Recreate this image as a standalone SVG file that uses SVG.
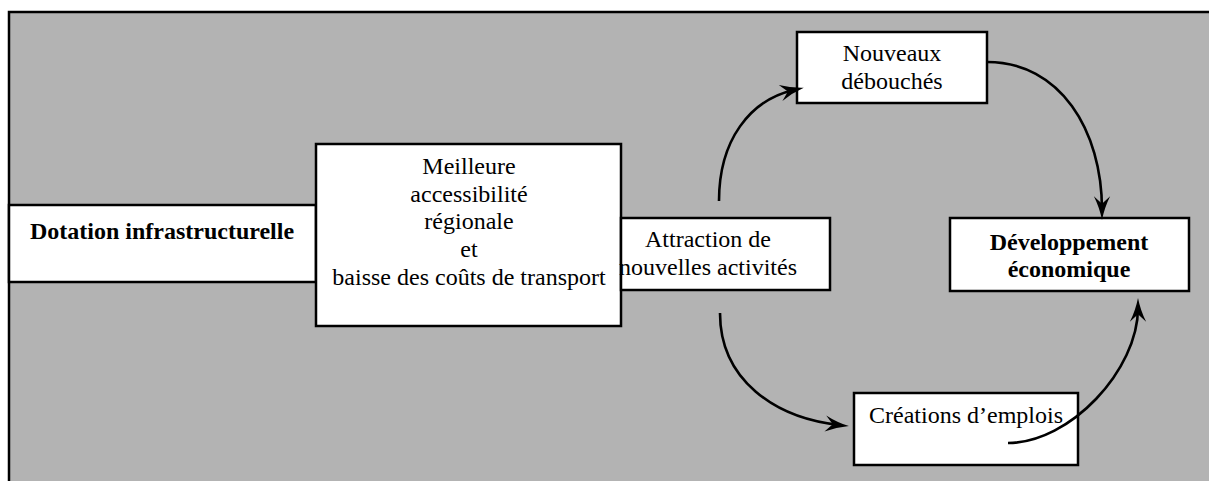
<svg xmlns="http://www.w3.org/2000/svg" width="1209" height="481" viewBox="0 0 1209 481">
<style>
.bg{fill:#b3b3b3;stroke:#000;stroke-width:2.5}
.box{fill:#fff;stroke:#000;stroke-width:2.5}
.t{font-family:"Liberation Serif","Times New Roman",serif;font-size:24px;fill:#000;text-anchor:middle}
.b{font-weight:bold}
.c{fill:none;stroke:#000;stroke-width:2.6}
</style>
<defs>
<marker id="ah" markerUnits="userSpaceOnUse" markerWidth="30" markerHeight="20" viewBox="-12 -8 22 16" refX="0" refY="0" orient="auto">
<path d="M-11,-6.5 Q-2,-2 8,0 Q-2,2 -11,6.5 L-5,0 Z" fill="#000"/>
</marker>
</defs>
<rect x="0" y="0" width="1209" height="481" fill="#fff"/>
<rect class="bg" x="9" y="12" width="1220" height="490"/>
<g id="dotation">
<rect class="box" x="9" y="205" width="307" height="77"/>
<text class="t b" x="162" y="239">Dotation infrastructurelle</text>
</g>
<g id="meilleure">
<rect class="box" x="316" y="144" width="305" height="182"/>
<text class="t" x="469" y="174">Meilleure</text>
<text class="t" x="469" y="202">accessibilité</text>
<text class="t" x="469" y="229">régionale</text>
<text class="t" x="469" y="257">et</text>
<text class="t" x="469" y="285">baisse des coûts de transport</text>
</g>
<g id="attraction">
<rect class="box" x="621" y="218" width="209" height="72"/>
<text class="t" x="708" y="247">Attraction de</text>
<text class="t" x="708" y="275">nouvelles activités</text>
</g>
<g id="nouveaux">
<rect class="box" x="797" y="32" width="190" height="71"/>
<text class="t" x="892" y="61">Nouveaux</text>
<text class="t" x="892" y="89">débouchés</text>
</g>
<g id="developpement">
<rect class="box" x="950" y="218" width="239" height="73"/>
<text class="t b" x="1069" y="250">Développement</text>
<text class="t b" x="1069" y="277">économique</text>
</g>
<g id="creations">
<rect class="box" x="854" y="393" width="224" height="72"/>
<text class="t" x="966" y="423">Créations d’emplois</text>
</g>
<g id="connectors">
<path class="c" d="M719,201 C719,140 750,100 794,90" marker-end="url(#ah)"/>
<path class="c" d="M987,62 C1060,62 1102,130 1102,210" marker-end="url(#ah)"/>
<path class="c" d="M720,313 C720,380 775,418 839,425" marker-end="url(#ah)"/>
<path class="c" d="M1008,443 C1070,443 1138,370 1138,308" marker-end="url(#ah)"/>
</g>
</svg>
